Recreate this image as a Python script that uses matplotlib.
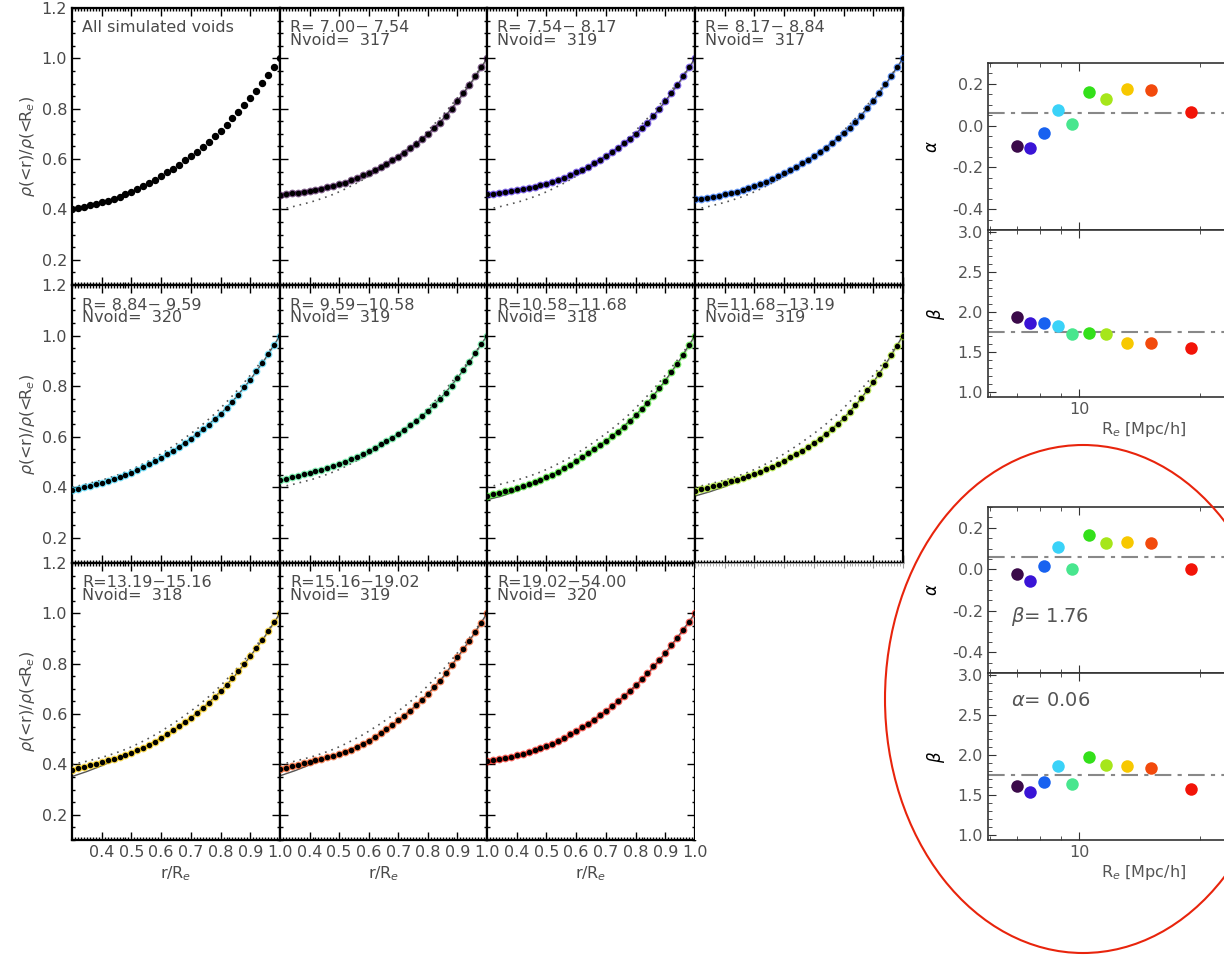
import matplotlib
matplotlib.use('Agg')
import matplotlib.pyplot as plt
from matplotlib.ticker import MultipleLocator, FixedLocator, NullFormatter, NullLocator
from matplotlib.patches import Ellipse

# radial bins r/Re
r_pts = [0.30, 0.32, 0.34, 0.36, 0.38, 0.40, 0.42, 0.44, 0.46, 0.48, 0.50, 0.52,
         0.54, 0.56, 0.58, 0.60, 0.62, 0.64, 0.66, 0.68, 0.70, 0.72, 0.74, 0.76,
         0.78, 0.80, 0.82, 0.84, 0.86, 0.88, 0.90, 0.92, 0.94, 0.96, 0.98, 1.00]

prof_all = [0.400, 0.405, 0.410, 0.416, 0.422, 0.428, 0.435, 0.443, 0.451, 0.460, 0.470,
            0.481, 0.493, 0.505, 0.518, 0.532, 0.547, 0.562, 0.578, 0.595, 0.612,
            0.630, 0.649, 0.669, 0.690, 0.713, 0.737, 0.762, 0.788, 0.815, 0.843,
            0.872, 0.902, 0.933, 0.966, 1.000]
prof_b1 = [0.458, 0.461, 0.464, 0.467, 0.470, 0.474, 0.478, 0.483, 0.488, 0.494, 0.500,
           0.507, 0.515, 0.525, 0.535, 0.545, 0.556, 0.568, 0.581, 0.595, 0.610,
           0.626, 0.643, 0.661, 0.680, 0.700, 0.722, 0.745, 0.770, 0.799, 0.830,
           0.862, 0.895, 0.929, 0.964, 1.000]
prof_b2 = [0.460, 0.463, 0.466, 0.469, 0.472, 0.476, 0.480, 0.485, 0.490, 0.496, 0.502,
           0.509, 0.517, 0.526, 0.536, 0.547, 0.558, 0.570, 0.583, 0.597, 0.611,
           0.627, 0.644, 0.662, 0.680, 0.700, 0.722, 0.745, 0.770, 0.799, 0.830,
           0.862, 0.895, 0.929, 0.964, 1.000]
prof_b3 = [0.440, 0.443, 0.447, 0.451, 0.455, 0.460, 0.465, 0.471, 0.477, 0.484, 0.492,
           0.501, 0.510, 0.520, 0.531, 0.543, 0.556, 0.569, 0.583, 0.597, 0.612,
           0.629, 0.646, 0.664, 0.683, 0.703, 0.725, 0.748, 0.773, 0.801, 0.832,
           0.864, 0.897, 0.930, 0.965, 1.000]
prof_b4 = [0.388, 0.393, 0.399, 0.405, 0.411, 0.418, 0.425, 0.432, 0.440, 0.449, 0.458,
           0.468, 0.479, 0.490, 0.503, 0.516, 0.530, 0.544, 0.559, 0.575, 0.592,
           0.610, 0.629, 0.648, 0.669, 0.690, 0.714, 0.739, 0.766, 0.795, 0.825,
           0.858, 0.891, 0.926, 0.962, 1.000]
prof_b5 = [0.429, 0.434, 0.440, 0.446, 0.451, 0.457, 0.463, 0.469, 0.476, 0.484, 0.492,
           0.501, 0.510, 0.520, 0.531, 0.543, 0.556, 0.569, 0.582, 0.596, 0.611,
           0.627, 0.645, 0.663, 0.682, 0.702, 0.724, 0.748, 0.774, 0.802, 0.832,
           0.864, 0.897, 0.930, 0.965, 1.000]
prof_b6 = [0.367, 0.372, 0.378, 0.384, 0.390, 0.397, 0.404, 0.412, 0.420, 0.429, 0.439,
           0.450, 0.462, 0.475, 0.489, 0.504, 0.519, 0.534, 0.550, 0.566, 0.583,
           0.601, 0.620, 0.640, 0.662, 0.684, 0.708, 0.734, 0.762, 0.791, 0.822,
           0.855, 0.889, 0.924, 0.961, 1.000]
prof_b7 = [0.385, 0.391, 0.397, 0.403, 0.409, 0.416, 0.423, 0.430, 0.437, 0.444, 0.452,
           0.461, 0.471, 0.481, 0.493, 0.505, 0.518, 0.531, 0.545, 0.560, 0.575,
           0.592, 0.610, 0.629, 0.650, 0.672, 0.697, 0.724, 0.752, 0.783, 0.815,
           0.849, 0.885, 0.922, 0.960, 1.000]
prof_b8 = [0.378, 0.384, 0.391, 0.397, 0.403, 0.410, 0.416, 0.423, 0.430, 0.438, 0.446,
           0.456, 0.467, 0.478, 0.491, 0.505, 0.520, 0.535, 0.551, 0.568, 0.585,
           0.604, 0.623, 0.644, 0.666, 0.690, 0.715, 0.742, 0.770, 0.800, 0.830,
           0.862, 0.895, 0.929, 0.964, 1.000]
prof_b9 = [0.380, 0.386, 0.392, 0.398, 0.404, 0.410, 0.416, 0.422, 0.428, 0.434, 0.440,
           0.449, 0.459, 0.470, 0.482, 0.495, 0.509, 0.524, 0.540, 0.557, 0.575,
           0.594, 0.614, 0.635, 0.657, 0.680, 0.706, 0.733, 0.763, 0.794, 0.825,
           0.858, 0.892, 0.927, 0.963, 1.000]
prof_b10 = [0.412, 0.416, 0.420, 0.425, 0.430, 0.436, 0.442, 0.449, 0.456, 0.464, 0.473,
            0.483, 0.494, 0.506, 0.519, 0.533, 0.547, 0.562, 0.578, 0.595, 0.613,
            0.631, 0.650, 0.670, 0.691, 0.714, 0.738, 0.763, 0.789, 0.816, 0.844,
            0.873, 0.903, 0.934, 0.966, 1.000]

# best-fit model curves, sampled every 0.05
r_fit = [0.30, 0.35, 0.40, 0.45, 0.50, 0.55, 0.60, 0.65, 0.70, 0.75, 0.80, 0.85, 0.90, 0.95, 1.00]
fit_b1 = [0.458, 0.467, 0.474, 0.487, 0.500, 0.520, 0.545, 0.576, 0.610, 0.652, 0.700, 0.758, 0.830, 0.910, 1.000]
fit_b2 = [0.460, 0.467, 0.476, 0.488, 0.502, 0.522, 0.547, 0.577, 0.611, 0.653, 0.700, 0.758, 0.830, 0.910, 1.000]
fit_b3 = [0.440, 0.449, 0.460, 0.474, 0.492, 0.515, 0.543, 0.576, 0.612, 0.655, 0.703, 0.761, 0.832, 0.912, 1.000]
fit_b4 = [0.385, 0.400, 0.416, 0.436, 0.458, 0.484, 0.516, 0.552, 0.592, 0.638, 0.690, 0.753, 0.825, 0.908, 1.000]
fit_b5 = [0.425, 0.440, 0.456, 0.472, 0.492, 0.515, 0.543, 0.576, 0.611, 0.653, 0.702, 0.761, 0.832, 0.912, 1.000]
fit_b6 = [0.350, 0.365, 0.385, 0.410, 0.437, 0.468, 0.504, 0.542, 0.583, 0.630, 0.684, 0.748, 0.822, 0.906, 1.000]
fit_b7 = [0.365, 0.382, 0.402, 0.425, 0.451, 0.476, 0.505, 0.538, 0.575, 0.619, 0.672, 0.738, 0.815, 0.903, 1.000]
fit_b8 = [0.352, 0.372, 0.395, 0.420, 0.446, 0.473, 0.505, 0.543, 0.585, 0.634, 0.690, 0.755, 0.830, 0.910, 1.000]
fit_b9 = [0.355, 0.375, 0.398, 0.420, 0.442, 0.466, 0.495, 0.532, 0.575, 0.624, 0.680, 0.745, 0.825, 0.908, 1.000]
fit_b10 = [0.406, 0.417, 0.430, 0.446, 0.466, 0.490, 0.529, 0.570, 0.612, 0.660, 0.713, 0.773, 0.843, 0.919, 1.000]

bin_lo = [7.00, 7.54, 8.17, 8.84, 9.59, 10.58, 11.68, 13.19, 15.16, 19.02]
bin_hi = [7.54, 8.17, 8.84, 9.59, 10.58, 11.68, 13.19, 15.16, 19.02, 54.00]
nvoid = [317, 319, 317, 320, 319, 318, 319, 318, 319, 320]
bin_colors = ['#3b0a4a', '#3a14d6', '#1862f0', '#3ad2f8', '#48e68e',
              '#33e01a', '#a6e61a', '#f7c800', '#f24a0c', '#f21408']

# alpha / beta fits vs void radius
alpha_free = [-0.098, -0.107, -0.035, 0.077, 0.006, 0.163, 0.126, 0.177, 0.173, 0.067]
beta_free = [1.943, 1.860, 1.868, 1.826, 1.730, 1.735, 1.726, 1.610, 1.610, 1.558]
alpha_fixb = [-0.021, -0.058, 0.016, 0.109, 0.003, 0.163, 0.125, 0.131, 0.125, 0.003]
beta_fixa = [1.622, 1.539, 1.672, 1.871, 1.635, 1.975, 1.880, 1.863, 1.846, 1.581]
alpha_mean = 0.06
beta_mean = 1.75

profiles = [prof_b1, prof_b2, prof_b3, prof_b4, prof_b5, prof_b6, prof_b7, prof_b8, prof_b9, prof_b10]
fits = [fit_b1, fit_b2, fit_b3, fit_b4, fit_b5, fit_b6, fit_b7, fit_b8, fit_b9, fit_b10]

W, H = 1224, 956
fig = plt.figure(figsize=(W / 100, H / 100), dpi=100)
plt.rcParams['font.family'] = ['DejaVu Sans']
txt_col = '#4a4a4a'


def px_axes(x0, y0, x1, y1):
    return fig.add_axes([x0 / W, 1 - y1 / H, (x1 - x0) / W, (y1 - y0) / H])


cols = [72, 280, 487, 695, 903]
rows = [8, 285, 563, 840]

for k in range(12):
    row, col = k // 4, k % 4
    ax = px_axes(cols[col], rows[row], cols[col + 1], rows[row + 1])
    if k == 11:
        # empty slot: only the top frame line is drawn
        for s in ['left', 'right', 'bottom']:
            ax.spines[s].set_visible(False)
        ax.spines['top'].set_color('#999999')
        ax.set_xlim(0.3, 1.0)
        ax.xaxis.set_major_locator(MultipleLocator(0.1))
        ax.xaxis.set_minor_locator(MultipleLocator(0.01))
        ax.tick_params(which='both', direction='in', top=True, bottom=False, left=False,
                       labelbottom=False, labelleft=False, colors='#999999')
        ax.yaxis.set_major_locator(NullLocator())
        continue

    ax.set_xlim(0.3, 1.0)
    ax.set_ylim(0.1, 1.2)
    if k == 0:
        ax.plot(r_pts, prof_all, 'o', color='black', ms=4.3, zorder=4)
        ax.text(0.05, 0.955, 'All simulated voids', transform=ax.transAxes,
                fontsize=11.5, color=txt_col, va='top')
    else:
        c = bin_colors[k - 1]
        prof = profiles[k - 1]
        ax.fill_between(r_pts, [p - 0.008 for p in prof], [p + 0.008 for p in prof],
                        color=c, alpha=0.3, lw=0, zorder=1)
        ax.plot(r_fit, fits[k - 1], '-', color='#555555', lw=1.0, zorder=2)
        ax.plot(r_pts, prof_all, color='#555555', lw=1.2, linestyle=(0, (1, 3)), zorder=2)
        ax.plot(r_pts, prof, 'o', color=c, ms=5.6, alpha=0.65, mew=0, zorder=3)
        ax.plot(r_pts, prof, 'o', color='black', ms=3.9, mew=0, zorder=4)
        label = 'R=%5.2f\u2212%5.2f\nNvoid= %4d' % (bin_lo[k - 1], bin_hi[k - 1], nvoid[k - 1])
        ax.text(0.05, 0.955, label, transform=ax.transAxes, fontsize=11.5, color=txt_col,
                va='top', linespacing=0.82)

    ax.xaxis.set_major_locator(FixedLocator([0.4, 0.5, 0.6, 0.7, 0.8, 0.9, 1.0]))
    ax.xaxis.set_minor_locator(MultipleLocator(0.01))
    ax.yaxis.set_major_locator(FixedLocator([0.2, 0.4, 0.6, 0.8, 1.0, 1.2]))
    ax.yaxis.set_minor_locator(MultipleLocator(0.05))
    ax.tick_params(which='both', direction='in', top=True, right=True, labelsize=11.5,
                   labelcolor=txt_col, width=1.0)
    ax.tick_params(which='major', length=6)
    ax.tick_params(which='minor', length=2.5)
    for s in ax.spines.values():
        s.set_linewidth(1.6)
    ax.tick_params(labelleft=(col == 0), labelbottom=(row == 2))
    if col == 0:
        ax.set_ylabel(r'$\rho$(<r)/$\rho$(<R$_e$)', fontsize=11.5, color=txt_col, labelpad=3)
    if row == 2:
        ax.set_xlabel(r'r/R$_e$', fontsize=11.5, color=txt_col, labelpad=3)


def right_pair(y_top, y_mid, y_bot, a_vals, b_vals, a_note=None, b_note=None):
    x0, x1 = 988, 1300
    ax_a = px_axes(x0, y_top, x1, y_mid)
    ax_b = px_axes(x0, y_mid, x1, y_bot)
    for ax, vals, line in [(ax_a, a_vals, alpha_mean), (ax_b, b_vals, beta_mean)]:
        ax.set_xscale('log')
        ax.set_xlim(5.93, 35.6)
        ax.axhline(line, color='#888888', lw=1.5, dashes=(8, 3, 2, 3), zorder=1)
        for xv, yv, c in zip(bin_lo, vals, bin_colors):
            ax.plot(xv, yv, 'o', color=c, ms=9, mew=0, zorder=3)
        ax.xaxis.set_major_locator(FixedLocator([10]))
        ax.xaxis.set_minor_locator(FixedLocator([6, 7, 8, 9, 20, 30]))
        ax.xaxis.set_minor_formatter(NullFormatter())
        ax.tick_params(which='both', direction='in', top=True, right=True,
                       labelsize=11.5, labelcolor='#555555', color='#333333')
        ax.tick_params(which='major', length=6)
        ax.tick_params(which='minor', length=3)
        for s in ax.spines.values():
            s.set_linewidth(1.2)
            s.set_color('#333333')
    ax_a.set_ylim(-0.5, 0.3)
    ax_a.yaxis.set_major_locator(FixedLocator([-0.4, -0.2, 0.0, 0.2]))
    ax_a.yaxis.set_minor_locator(MultipleLocator(0.05))
    ax_a.yaxis.set_major_formatter(plt.FuncFormatter(lambda v, p: '%.1f' % v))
    ax_a.tick_params(labelbottom=False)
    ax_a.set_ylabel(r'$\alpha$', fontsize=12, labelpad=8)
    ax_b.set_ylim(0.94, 3.03)
    ax_b.yaxis.set_major_locator(FixedLocator([1.0, 1.5, 2.0, 2.5, 3.0]))
    ax_b.yaxis.set_minor_locator(MultipleLocator(0.1))
    ax_b.set_ylabel(r'$\beta$', fontsize=12, labelpad=8)
    ax_b.set_xticklabels(['10'])
    ax_b.set_xlabel(r'R$_e$ [Mpc/h]', fontsize=11.5, color='#555555', labelpad=2)
    if a_note:
        ax_a.text(6.75, -0.23, a_note, fontsize=14, color='#555555', va='center')
    if b_note:
        ax_b.text(6.75, 2.68, b_note, fontsize=14, color='#555555', va='center')


right_pair(63, 230, 397, alpha_free, beta_free)
right_pair(507, 673, 840, alpha_fixb, beta_fixa,
           a_note=r'$\beta$= 1.76', b_note=r'$\alpha$= 0.06')

# red highlight ellipse around the lower pair
fig.add_artist(Ellipse((1083 / W, 1 - 699 / H), 396 / W, 508 / H, transform=fig.transFigure,
                       fill=False, edgecolor='#e8240c', lw=1.5))

fig.savefig('out.png', dpi=100)
